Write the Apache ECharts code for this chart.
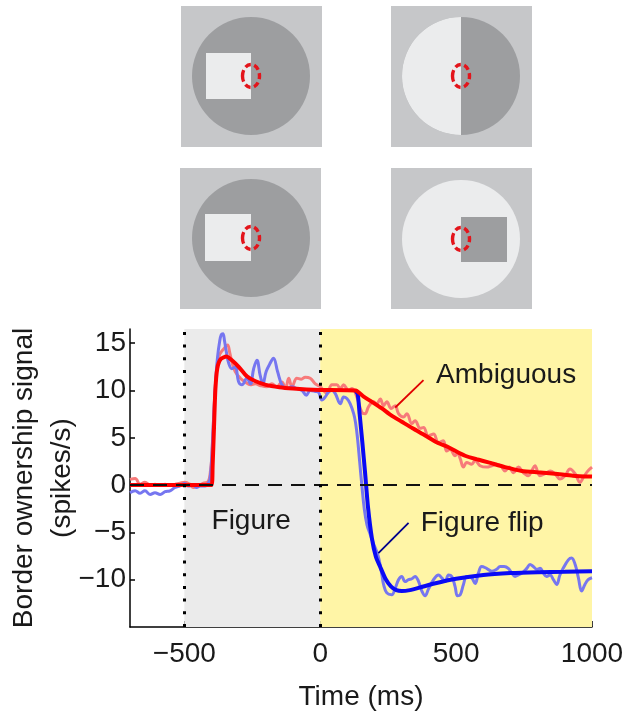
<!DOCTYPE html>
<html>
<head>
<meta charset="utf-8">
<script src="https://cdn.jsdelivr.net/npm/echarts@6.0.0/dist/echarts.min.js"></script>
<style>
  html, body { margin: 0; padding: 0; background: #fff; }
  #chart { width: 624px; height: 722px; }
</style>
</head>
<body>
<div id="chart"></div>
<script>
// Time axis ticks (ms) and signal ticks (spikes/s)
const xTicks = [-500, 0, 500, 1000]
const yTicks = [-10, -5, 0, 5, 10, 15]

// Epochs: figure presentation and the ambiguous / flip test period
const figureEpoch = [-500, 0]
const testEpoch = [0, 1000]

// Raw responses [time, value]
const redRaw = [
  [-700, 0.6], [-681, 0.7], [-663, 0.1], [-645, 0.3], [-626, 0.0], [-608, 0.1], [-589, 0.0],
  [-571, 0.1], [-553, 0.0], [-534, 0.1], [-516, 0.2], [-498, 0.3], [-480, 0.1], [-467, -0.25],
  [-450, -0.1], [-430, 0.2], [-415, 0.3], [-408, 0.7], [-404, 1.5], [-400, 2.6], [-395, 5.5],
  [-388, 9.5], [-380, 12.5], [-370, 13.8], [-355, 14.4], [-341, 14.8], [-333, 14.0], [-325, 13.0],
  [-313, 12.0], [-294, 11.3], [-276, 10.9], [-257, 10.6], [-239, 10.7], [-218, 10.5], [-196, 10.4],
  [-178, 10.7], [-160, 10.4], [-141, 10.9], [-128, 10.2], [-116, 11.3], [-104, 10.4], [-86, 11.3],
  [-70, 11.2], [-55, 11.4], [-37, 11.3], [-18, 10.7], [0, 10.4], [12, 10.0], [25, 9.7], [43, 10.6],
  [61, 10.6], [74, 10.2], [86, 10.6], [104, 10.0], [117, 10.2], [135, 9.3], [153, 7.7], [165, 7.55],
  [178, 8.3], [196, 8.8], [208, 8.6], [221, 9.1], [233, 8.4], [245, 8.8], [261, 8.1], [276, 8.4],
  [288, 7.55], [306, 7.2], [319, 7.55], [337, 6.5], [349, 6.8], [368, 6.0], [380, 6.1], [398, 5.2],
  [417, 5.4], [435, 4.5], [453, 4.7], [465, 3.6], [478, 3.8], [496, 3.1], [505, 3.4], [515, 2.8],
  [527, 1.9], [539, 2.4], [557, 2.2], [570, 2.6], [588, 2.05], [613, 1.9], [631, 2.05], [649, 2.2],
  [665, 2.0], [680, 1.5], [695, 1.9], [711, 1.3], [729, 1.9], [748, 1.3], [766, 1.0], [778, 1.5],
  [790, 2.05], [808, 1.0], [827, 1.2], [846, 1.5], [864, 1.2], [882, 0.64], [901, 1.0], [919, 1.7],
  [938, 1.2], [956, 0.28], [968, 0.8], [985, 1.5], [1000, 1.9]
]
const blueRaw = [
  [-700, -0.8], [-681, -0.6], [-663, -0.85], [-645, -0.6], [-626, -1.0], [-608, -0.8], [-589, -1.0],
  [-571, -0.7], [-553, -0.6], [-534, -0.25], [-516, -0.07], [-498, 0.17], [-485, -0.1], [-467, 0.0],
  [-455, -0.25], [-442, -0.1], [-423, -0.1], [-412, 0.2], [-406, 0.6], [-400, 2.5], [-394, 6],
  [-386, 10.5], [-378, 13.5], [-370, 15.2], [-364, 15.9], [-358, 16.0], [-352, 15.2], [-345, 14.0],
  [-337, 12.9], [-325, 12.3], [-313, 12.5], [-300, 10.9], [-288, 10.6], [-270, 11.3], [-257, 10.7],
  [-245, 12.3], [-233, 13.2], [-221, 11.6], [-211, 10.7], [-199, 12.0], [-184, 12.9], [-172, 13.4],
  [-157, 12.0], [-141, 10.6], [-123, 10.2], [-104, 10.4], [-86, 10.2], [-67, 10.0], [-51, 9.5],
  [-37, 10.0], [-18, 9.9], [-6, 9.8], [6, 9.0], [18, 9.3], [31, 9.85], [43, 10.0], [55, 9.7],
  [74, 8.6], [86, 9.3], [98, 9.15], [110, 8.6], [123, 7.55], [130, 6.6], [137, 5.0], [145, 2.5],
  [153, 0.0], [162, -2.5], [172, -4.2], [185, -5.3], [196, -6.2], [206, -6.9], [215, -7.7],
  [227, -9.5], [233, -10.5], [245, -11.4], [263, -11.6], [276, -10.9], [288, -10.0], [300, -9.65],
  [312, -10.2], [325, -10.0], [337, -9.9], [349, -9.65], [362, -10.2], [374, -11.2], [386, -11.7],
  [398, -11.0], [417, -10.0], [435, -9.5], [447, -9.8], [460, -10.2], [472, -9.5], [484, -9.65],
  [496, -10.7], [505, -11.7], [515, -11.6], [527, -10.5], [539, -9.65], [557, -9.8], [570, -10.4],
  [582, -9.3], [594, -8.6], [612, -8.8], [631, -9.1], [649, -8.9], [662, -8.6], [677, -8.6],
  [692, -8.8], [705, -9.3], [717, -9.65], [729, -9.5], [742, -9.3], [760, -8.8], [772, -8.4],
  [784, -8.6], [797, -8.9], [809, -8.8], [821, -9.3], [833, -9.65], [846, -9.5], [858, -10.0],
  [870, -10.5], [882, -9.5], [894, -8.8], [913, -7.9], [925, -7.7], [938, -8.4], [950, -9.8],
  [962, -11.2], [974, -10.5], [986, -10.0], [1000, -9.8]
]

// Model fits
const redFit = [
  [-700, 0], [-400, 0], [-396, 2], [-391, 6], [-386, 10], [-379, 12.3], [-367, 13.3], [-345, 13.6],
  [-325, 13.2], [-300, 12.5], [-270, 11.5], [-240, 11.0], [-200, 10.6], [-150, 10.35], [-100, 10.2],
  [-50, 10.1], [0, 10.05], [130, 10], [160, 9.35], [190, 8.8], [227, 8.1], [260, 7.4], [300, 6.7],
  [340, 6.0], [386, 5.25], [430, 4.5], [472, 4.0], [533, 3.1], [580, 2.7], [619, 2.4], [680, 1.9],
  [742, 1.5], [800, 1.35], [864, 1.2], [930, 1.0], [1000, 0.9]
]
const blueFit = [
  [130, 10], [138, 9.6], [145, 7.5], [155, 4.5], [165, 1.3], [176, -2.4], [190, -5.6], [205, -7.6],
  [220, -8.6], [240, -9.9], [260, -10.7], [280, -11.1], [300, -11.2], [330, -11.1], [370, -10.8],
  [420, -10.4], [500, -9.9], [600, -9.5], [700, -9.3], [800, -9.2], [900, -9.15], [1000, -9.1]
]

// Annotations: label anchors and leader lines in data units
const labelNames = ['Figure', 'Ambiguous', 'Figure flip']
const labelAnchors = [[-254, -3.8], [684, 11.6], [596, -4.0]]
const ambiguousLeader = [[380, 11.1], [276, 8.2]]
const flipLeader = [[325, -4.0], [214, -7.2]]

const FONT = "'Liberation Sans', Arial, sans-serif"
const FS = 28
const TXT = '#1a1a1a'
const fmt = v => (v < 0 ? '\u2212' + Math.abs(v) : String(v))

// Stimulus pictograms (top)
const GREY_BG = '#c6c7c9'
const DARK = '#9d9ea0'
const LIGHT = '#ebeced'
const ring = (cx, cy) => ({
  type: 'ellipse',
  shape: { cx: cx, cy: cy, rx: 8.5, ry: 11.5 },
  style: { fill: null, stroke: '#e3141b', lineWidth: 3.4, lineDash: [6, 3.5] }
})
const pictograms = [
  // top-left
  { type: 'rect', shape: { x: 181, y: 6, width: 141, height: 141 }, style: { fill: GREY_BG } },
  { type: 'circle', shape: { cx: 251, cy: 76, r: 59 }, style: { fill: DARK } },
  { type: 'rect', shape: { x: 206, y: 53, width: 45, height: 46 }, style: { fill: LIGHT } },
  ring(251, 76),
  // top-right
  { type: 'rect', shape: { x: 391, y: 6, width: 141, height: 141 }, style: { fill: GREY_BG } },
  { type: 'circle', shape: { cx: 461, cy: 76, r: 59 }, style: { fill: DARK } },
  { type: 'sector', shape: { cx: 461, cy: 76, r: 59, r0: 0, startAngle: Math.PI / 2, endAngle: Math.PI * 1.5 }, style: { fill: LIGHT } },
  ring(461, 76),
  // bottom-left
  { type: 'rect', shape: { x: 180, y: 168, width: 141, height: 141 }, style: { fill: GREY_BG } },
  { type: 'circle', shape: { cx: 251, cy: 238, r: 59 }, style: { fill: DARK } },
  { type: 'rect', shape: { x: 205, y: 214, width: 46, height: 47 }, style: { fill: LIGHT } },
  ring(251, 238),
  // bottom-right
  { type: 'rect', shape: { x: 391, y: 168, width: 141, height: 141 }, style: { fill: GREY_BG } },
  { type: 'circle', shape: { cx: 461, cy: 239, r: 59 }, style: { fill: LIGHT } },
  { type: 'rect', shape: { x: 461, y: 217, width: 46, height: 45 }, style: { fill: DARK } },
  ring(461, 239)
]

const chart = echarts.init(document.getElementById('chart'), null, { renderer: 'canvas' })

chart.setOption({
  animation: false,
  backgroundColor: '#ffffff',
  grid: { left: 130, right: 32, top: 329, bottom: 95, containLabel: false, outerBoundsMode: 'none' },
  xAxis: {
    type: 'value',
    min: -700,
    max: 1000,
    axisLine: { show: true, onZero: false, lineStyle: { color: '#000', width: 1.5 } },
    axisTick: { show: true, inside: true, length: 6, customValues: xTicks, lineStyle: { color: '#000', width: 1.5 } },
    axisLabel: { customValues: xTicks, formatter: fmt, fontSize: FS, fontFamily: FONT, color: TXT, margin: 13 },
    splitLine: { show: false },
    name: 'Time (ms)',
    nameLocation: 'middle',
    nameGap: 56,
    nameMoveOverlap: false,
    nameTextStyle: { fontSize: FS, fontFamily: FONT, color: TXT }
  },
  yAxis: {
    type: 'value',
    min: -15,
    max: 16.5,
    axisLine: { show: true, onZero: false, lineStyle: { color: '#000', width: 1.5 } },
    axisTick: { show: true, inside: true, length: 5, customValues: yTicks, lineStyle: { color: '#000', width: 1.5 } },
    axisLabel: { customValues: yTicks, formatter: fmt, fontSize: FS, fontFamily: FONT, color: TXT, margin: 4 },
    splitLine: { show: false },
    name: 'Border ownership signal\n(spikes/s)',
    nameLocation: 'middle',
    nameGap: 49,
    nameMoveOverlap: false,
    nameTextStyle: { fontSize: FS, lineHeight: 38, fontFamily: FONT, color: TXT }
  },
  series: [
    {
      // background epochs and reference lines
      type: 'line',
      data: [],
      silent: true,
      markArea: {
        silent: true,
        data: [
          [{ xAxis: figureEpoch[0], itemStyle: { color: '#ebebeb' } }, { xAxis: figureEpoch[1] }],
          [{ xAxis: testEpoch[0], itemStyle: { color: '#fff5a6' } }, { xAxis: testEpoch[1] }]
        ]
      },
      markLine: {
        silent: true,
        symbol: 'none',
        label: { show: false },
        data: [
          { yAxis: 0, lineStyle: { color: '#111', width: 1.8, type: [14, 9] } },
          { xAxis: figureEpoch[0], lineStyle: { color: '#000', width: 3, type: [3, 9.7] } },
          { xAxis: figureEpoch[1], lineStyle: { color: '#000', width: 3, type: [3, 9.7] } }
        ]
      }
    },
    {
      name: 'Ambiguous raw',
      type: 'line',
      data: redRaw,
      showSymbol: false,
      smooth: 0.4,
      lineStyle: { color: '#f77a7a', width: 3 }
    },
    {
      name: 'Figure flip raw',
      type: 'line',
      data: blueRaw,
      showSymbol: false,
      smooth: 0.4,
      lineStyle: { color: '#7676f0', width: 3 }
    },
    {
      name: 'Figure flip fit',
      type: 'line',
      data: blueFit,
      showSymbol: false,
      smooth: 0.2,
      lineStyle: { color: '#0a0af5', width: 4 },
      markLine: {
        silent: true,
        symbol: 'none',
        label: { show: false },
        lineStyle: { color: '#00008b', width: 1.8, type: 'solid' },
        data: [[{ coord: flipLeader[0] }, { coord: flipLeader[1] }]]
      }
    },
    {
      name: 'Ambiguous fit',
      type: 'line',
      data: redFit,
      showSymbol: false,
      smooth: 0.2,
      lineStyle: { color: '#ff0000', width: 4 },
      markLine: {
        silent: true,
        symbol: 'none',
        label: { show: false },
        lineStyle: { color: '#e00000', width: 1.8, type: 'solid' },
        data: [[{ coord: ambiguousLeader[0] }, { coord: ambiguousLeader[1] }]]
      }
    }
  ]
})

// place the text annotations through the chart's own coordinate system
const labelGraphics = labelNames.map((name, i) => {
  const p = chart.convertToPixel({ gridIndex: 0 }, labelAnchors[i])
  return {
    type: 'text',
    x: p[0],
    y: p[1],
    z: 100,
    style: { text: name, fontSize: FS, fontFamily: FONT, fill: TXT, align: 'center', verticalAlign: 'middle' }
  }
})

chart.setOption({ graphic: pictograms.concat(labelGraphics) })
</script>
</body>
</html>
